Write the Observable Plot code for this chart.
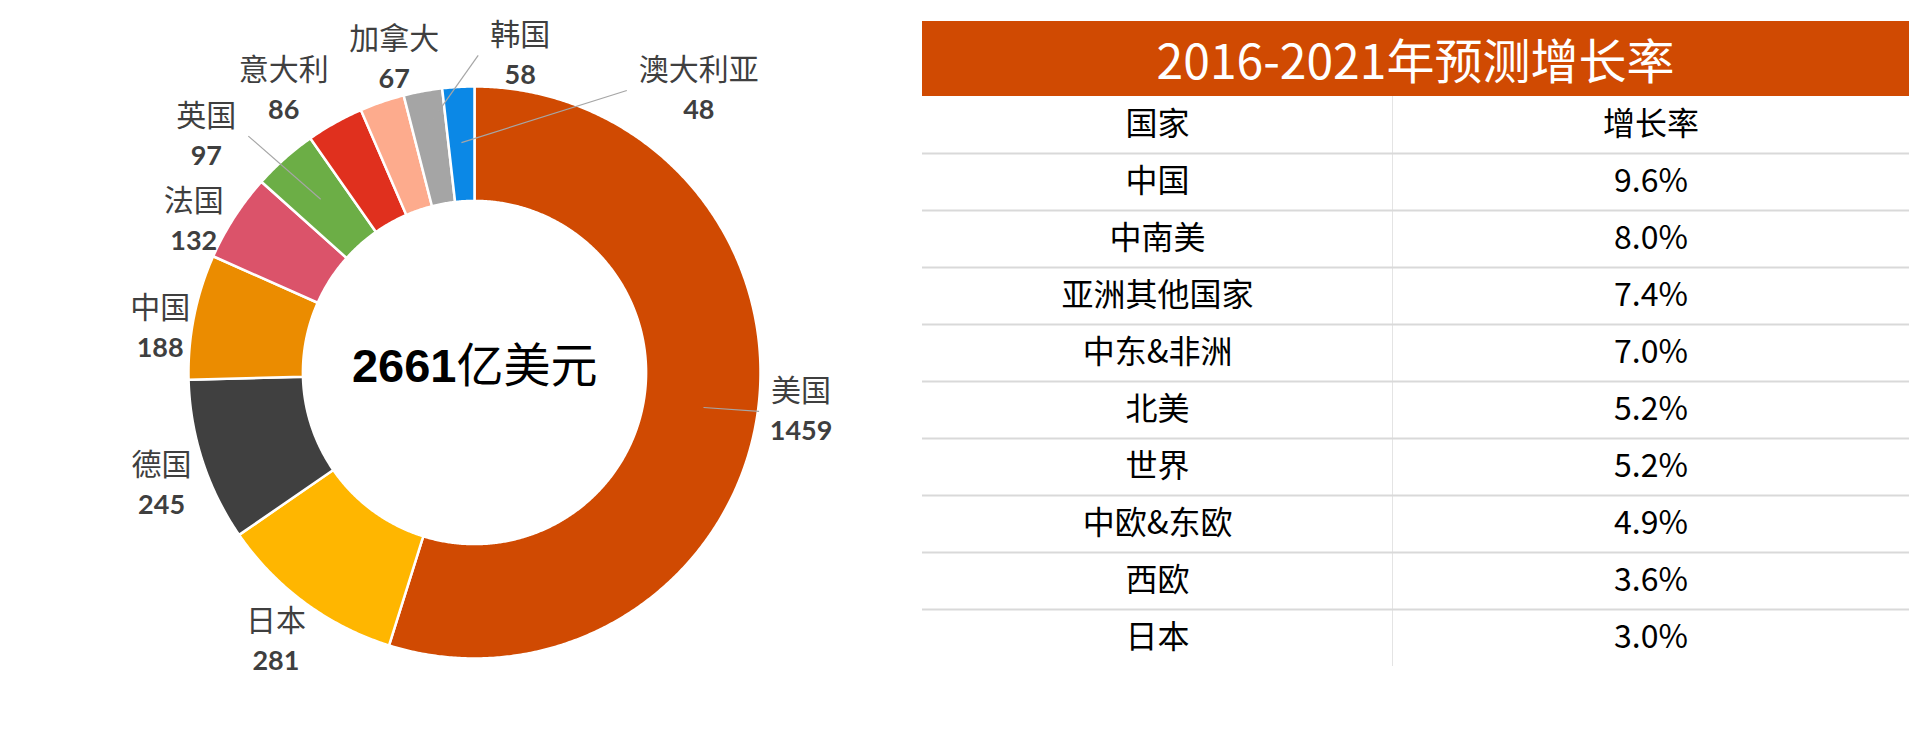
<!DOCTYPE html>
<html>
<head>
<meta charset="utf-8">
<script src="https://cdn.jsdelivr.net/npm/d3@7"></script>
<script src="https://cdn.jsdelivr.net/npm/@observablehq/plot@0.6"></script>
<style>
  html, body { margin: 0; padding: 0; background: #fff; }
  #page { position: relative; width: 1909px; height: 748px; overflow: hidden; background: #fff; }
  #donut { position: absolute; left: 0; top: 0; }
  #tableTitle {
    position: absolute; left: 922px; top: 21px; width: 987px; height: 75px;
    background: #D04A02; color: #fff; text-align: center;
    font-family: "Noto Sans CJK SC", sans-serif; font-size: 48px; line-height: 75px;
  }
  #table { position: absolute; left: 921px; top: 96px; }
</style>
</head>
<body>
<div id="page">
  <div id="donut"></div>
  <div id="tableTitle"></div>
  <div id="table"></div>
</div>
<script>
// ---------- data ----------
const countries = ["美国", "日本", "德国", "中国", "法国", "英国", "意大利", "加拿大", "韩国", "澳大利亚"];
const marketValues = [1459, 281, 245, 188, 132, 97, 86, 67, 58, 48];
const totalUnit = "亿美元";

const tableTitle = "2016-2021年预测增长率";
const tableHeaders = ["国家", "增长率"];
const regions = ["中国", "中南美", "亚洲其他国家", "中东&非洲", "北美", "世界", "中欧&东欧", "西欧", "日本"];
const growthRates = [9.6, 8.0, 7.4, 7.0, 5.2, 5.2, 4.9, 3.6, 3.0];

// ---------- styles / layout ----------
const sliceColors = ["#D04A02", "#FFB600", "#404040", "#EB8C00", "#DB536A", "#6CAE46", "#E0301E", "#FDAB8D", "#A5A5A5", "#0B88E6"];
const cx = 474, cy = 372, R = 286;          // donut centre & outer radius in px
const innerRatio = 0.6;
// label placement: angle (deg, clockwise from top), radius (in outer radii), leader line
const labelLayout = {
  "美国":   {angle: 96.8,  r: 1.15,  leader: true,  leaderR: 0.81},
  "日本":   {angle: 216.4, r: 1.17},
  "德国":   {angle: 250.2, r: 1.163},
  "中国":   {angle: 278,   r: 1.11},
  "法国":   {angle: 298.3, r: 1.115},
  "英国":   {angle: 311.4, r: 1.25,  leader: true,  leaderR: 0.81},
  "意大利": {angle: 325.9, r: 1.19},
  "加拿大": {angle: 345.6, r: 1.13},
  "韩国":   {angle: 8.2,   r: 1.12,  leader: true,  leaderR: 0.88},
  "澳大利亚": {angle: 38.5, r: 1.26, leader: true,  leaderR: 0.805}
};
const nameSize = 30, valueSize = 27;
const colWidths = [470, 517];

// ---------- donut geometry from data ----------
const total = d3.sum(marketValues);
let acc = 0;
const slices = countries.map((name, i) => {
  const a0 = acc / total * 360;
  acc += marketValues[i];
  const a1 = acc / total * 360;
  return {name, value: marketValues[i], a0, a1, mid: (a0 + a1) / 2};
});
const rad = a => a * Math.PI / 180;
const polar = (a, r) => [r * Math.sin(rad(a)), r * Math.cos(rad(a))];

const ring = slices.flatMap(s => {
  const n = Math.max(2, Math.ceil((s.a1 - s.a0) / 0.4));
  const pts = [];
  for (let k = 0; k <= n; k++) {
    const [x, y] = polar(s.a0 + (s.a1 - s.a0) * k / n, 1);
    pts.push({name: s.name, x, y});
  }
  for (let k = n; k >= 0; k--) {
    const [x, y] = polar(s.a0 + (s.a1 - s.a0) * k / n, innerRatio);
    pts.push({name: s.name, x, y});
  }
  pts.push({...pts[0]});
  return pts;
});

const labels = slices.map(s => {
  const L = labelLayout[s.name];
  const [x, y] = polar(L.angle, L.r);
  return {...s, x, y, L};
});

const leaders = labels.filter(d => d.L.leader).map(d => {
  const [sx, sy] = polar(d.mid, d.L.leaderR);
  const side = Math.sign(sx - d.x);
  const halfW = d.name.length * nameSize / 2 + 12;
  return {x1: sx, y1: sy, x2: d.x + side * halfW / R, y2: d.y};
});

const donut = Plot.plot({
  width: 921,
  height: 748,
  margin: 0,
  x: {domain: [-1, 1], range: [cx - R, cx + R], axis: null},
  y: {domain: [-1, 1], range: [cy + R, cy - R], axis: null},
  color: {domain: countries, range: sliceColors},
  style: {background: "#fff", overflow: "visible"},
  marks: [
    Plot.line(ring, {x: "x", y: "y", z: "name", fill: "name", stroke: "#fff", strokeWidth: 2.5, strokeLinejoin: "round"}),
    Plot.link(leaders, {x1: "x1", y1: "y1", x2: "x2", y2: "y2", stroke: "#A6A6A6", strokeWidth: 1.2}),
    Plot.text(labels, {x: "x", y: "y", text: "name", dy: -20, fontSize: nameSize, fill: "#3F3F3F",
      fontFamily: "'Noto Sans CJK SC', sans-serif"}),
    Plot.text(labels, {x: "x", y: "y", text: d => String(d.value), dy: 20, fontSize: valueSize, fontWeight: "bold",
      fill: "#3F3F3F", fontFamily: "Lato, 'Open Sans', sans-serif"}),
    Plot.text([total], {x: () => 0, y: () => 0, text: d => String(d), textAnchor: "end", dx: -18, dy: -6,
      fontSize: 47, fontWeight: "bold", fill: "#000", fontFamily: "'Liberation Sans', Arial, sans-serif"}),
    Plot.text([totalUnit], {x: () => 0, y: () => 0, text: d => d, textAnchor: "start", dx: -18, dy: -6,
      fontSize: 47, fill: "#000", fontFamily: "'Noto Sans CJK SC', sans-serif"})
  ]
});
document.getElementById("donut").appendChild(donut);

// ---------- table ----------
document.getElementById("tableTitle").textContent = tableTitle;
const split = colWidths[0] / (colWidths[0] + colWidths[1]);
const colCenters = [split / 2, (split + 1) / 2];
const headerCells = tableHeaders.map((t, j) => ({t, col: colCenters[j], row: 0.5}));
const bodyCells = regions.flatMap((r, i) => [
  {t: r, col: colCenters[0], row: i + 1.5},
  {t: growthRates[i].toFixed(1) + "%", col: colCenters[1], row: i + 1.5}
]);
const nRows = regions.length + 1;

const table = Plot.plot({
  width: 988,
  height: 652,
  margin: 0,
  x: {domain: [0, 1], range: [1, 988], axis: null},
  y: {domain: [0, nRows], range: [0, nRows * 57], axis: null},
  style: {background: "#fff", overflow: "visible"},
  marks: [
    Plot.ruleX([split], {y1: 0, y2: nRows, stroke: "#E4E4E4", strokeWidth: 1}),
    Plot.ruleY(d3.range(1, nRows), {x1: 0, x2: 1, stroke: "#D9D9D9", strokeWidth: 2}),
    Plot.text(headerCells.concat(bodyCells), {x: "col", y: "row", text: "t", fontSize: 32, fill: "#000",
      fontFamily: "'Noto Sans CJK SC', sans-serif"})
  ]
});
document.getElementById("table").appendChild(table);
</script>
</body>
</html>
